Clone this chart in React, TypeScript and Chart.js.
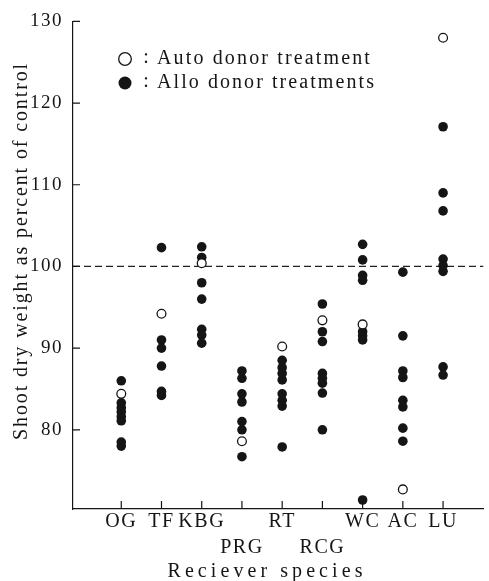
import { useEffect, useRef } from 'react';
import { Chart, registerables } from 'chart.js';

Chart.register(...registerables);

// ---- data ----
const categories = ['OG', 'TF', 'KBG', 'PRG', 'RT', 'RCG', 'WC', 'AC', 'LU'];
const tickLabels: (string | string[])[] = ['OG', 'TF', 'KBG', ['', 'PRG'], 'RT', ['', 'RCG'], 'WC', 'AC', 'LU'];
const yTickValues = [80, 90, 100, 110, 120, 130];
const controlLevel = 100;

const alloOG = [86.0, 83.3, 82.7, 82.2, 81.6, 81.1, 78.5, 78.0];
const alloTF = [102.3, 91.0, 90.0, 87.8, 84.7, 84.2];
const alloKBG = [102.4, 101.1, 98.0, 96.0, 92.3, 91.6, 90.6];
const alloPRG = [87.2, 86.3, 84.4, 83.4, 81.0, 80.0, 76.7];
const alloRT = [88.5, 87.6, 86.9, 86.1, 84.4, 83.6, 82.9, 77.9];
const alloRCG = [95.4, 92.0, 90.8, 86.9, 86.3, 85.7, 84.5, 80.0];
const alloWC = [102.7, 100.8, 98.9, 98.3, 92.0, 91.5, 91.0, 71.4];
const alloAC = [99.3, 91.5, 87.2, 86.4, 83.6, 82.8, 80.2, 78.6];
const alloLU = [117.1, 109.0, 106.8, 100.9, 100.1, 99.4, 87.7, 86.7];
const autoValues = [84.4, 94.2, 100.4, 78.6, 90.2, 93.4, 92.9, 72.7, 128.0];

const legendAuto = 'Auto donor treatment';
const legendAllo = 'Allo donor treatments';
const xTitle = 'Reciever species';
const yTitle = 'Shoot dry weight as percent of control';

const FONT = '"Liberation Serif", "Times New Roman", serif';
const INK = '#151515';

function spaced(ctx: CanvasRenderingContext2D, text: string, x: number, y: number, width: number, align: 'left' | 'center') {
  const c = ctx as any;
  c.letterSpacing = '0px';
  const natural = ctx.measureText(text).width;
  const ls = (width - natural) / text.length;
  c.letterSpacing = ls + 'px';
  ctx.textAlign = 'left';
  const startX = align === 'center' ? x - width / 2 : x;
  ctx.fillText(text, startX, y);
  c.letterSpacing = '0px';
}

export default function App() {
  const ref = useRef<HTMLCanvasElement>(null);

  useEffect(() => {
    const canvas = ref.current!;
    const allo = [alloOG, alloTF, alloKBG, alloPRG, alloRT, alloRCG, alloWC, alloAC, alloLU];
    const alloPoints = allo.flatMap((vals, i) => vals.map((v) => ({ x: i + 1, y: v })));
    const autoPoints = autoValues.map((v, i) => ({ x: i + 1, y: v }));

    const overlay = {
      id: 'overlay',
      beforeDraw(chart: any) {
        chart.ctx.letterSpacing = '1.5px';
      },
      beforeDatasetsDraw(chart: any) {
        const ctx = chart.ctx as CanvasRenderingContext2D;
        const { left, right } = chart.chartArea;
        const py = chart.scales.y.getPixelForValue(controlLevel);
        ctx.save();
        ctx.strokeStyle = '#222';
        ctx.lineWidth = 1.2;
        ctx.setLineDash([7, 4]);
        ctx.beginPath();
        ctx.moveTo(left, py);
        ctx.lineTo(right, py);
        ctx.stroke();
        ctx.restore();
      },
      afterDraw(chart: any) {
        const ctx = chart.ctx as CanvasRenderingContext2D;
        const { left, bottom } = chart.chartArea;
        const xs = chart.scales.x;
        const ys = chart.scales.y;
        ctx.save();
        (ctx as any).letterSpacing = '0px';
        ctx.strokeStyle = INK;
        ctx.lineWidth = 1.2;
        ctx.beginPath();
        yTickValues.forEach((v) => {
          const py = ys.getPixelForValue(v);
          ctx.moveTo(left, py);
          ctx.lineTo(left + 7, py);
        });
        categories.forEach((_, i) => {
          const px = xs.getPixelForValue(i + 1);
          ctx.moveTo(px, bottom);
          ctx.lineTo(px, bottom - 8);
        });
        ctx.stroke();

        ctx.fillStyle = INK;
        ctx.textBaseline = 'middle';
        ctx.font = `20px ${FONT}`;
        // x title
        spaced(ctx, xTitle, 267, 572, 199, 'center');
        // y title
        ctx.save();
        ctx.translate(22, 251);
        ctx.rotate(-Math.PI / 2);
        spaced(ctx, yTitle, 0, 0, 378, 'center');
        ctx.restore();

        // legend
        ctx.beginPath();
        ctx.arc(125, 59, 6.3, 0, Math.PI * 2);
        ctx.fillStyle = '#fff';
        ctx.fill();
        ctx.lineWidth = 1.3;
        ctx.strokeStyle = INK;
        ctx.stroke();
        ctx.beginPath();
        ctx.arc(125, 83, 6.5, 0, Math.PI * 2);
        ctx.fillStyle = INK;
        ctx.fill();
        ctx.font = `20px ${FONT}`;
        ctx.textAlign = 'center';
        ctx.fillText(':', 146, 58);
        ctx.fillText(':', 146, 82);
        spaced(ctx, legendAuto, 157, 59, 215, 'left');
        spaced(ctx, legendAllo, 157, 83, 219, 'left');
        ctx.restore();
      },
    };

    const chart = new Chart(canvas, {
      type: 'scatter',
      data: {
        datasets: [
          {
            label: legendAuto,
            data: autoPoints,
            order: 0,
            pointRadius: 4.4,
            pointBackgroundColor: '#fff',
            pointBorderColor: INK,
            pointBorderWidth: 1.3,
          },
          {
            label: legendAllo,
            data: alloPoints,
            order: 1,
            pointRadius: 4.8,
            pointBackgroundColor: INK,
            pointBorderColor: INK,
            pointBorderWidth: 0,
          },
        ],
      },
      options: {
        responsive: false,
        animation: false,
        layout: { padding: { top: 18, right: 0, left: 0, bottom: 0 } },
        plugins: { legend: { display: false }, tooltip: { enabled: false } },
        scales: {
          x: {
            type: 'linear',
            min: -0.2,
            max: 10,
            grid: { display: false, drawTicks: false },
            border: { display: true, color: INK, width: 1.2 },
            afterBuildTicks: (s: any) => {
              s.ticks = categories.map((_, i) => ({ value: i + 1 }));
            },
            afterFit: (s: any) => {
              s.height = 72;
            },
            ticks: {
              autoSkip: false,
              maxRotation: 0,
              minRotation: 0,
              padding: 0,
              color: INK,
              font: { family: FONT, size: 20, lineHeight: 1.3 },
              callback: (v: any) => tickLabels[Math.round(Number(v)) - 1] ?? '',
            },
          },
          y: {
            type: 'linear',
            min: 70.3,
            max: 130,
            grid: { display: false, drawTicks: false },
            border: { display: true, color: INK, width: 1.2 },
            afterBuildTicks: (s: any) => {
              s.ticks = yTickValues.map((v) => ({ value: v }));
            },
            afterFit: (s: any) => {
              s.width = 73;
            },
            ticks: {
              padding: 10,
              color: INK,
              font: { family: FONT, size: 19 },
            },
          },
        },
      } as any,
      plugins: [overlay],
    });
    return () => chart.destroy();
  }, []);

  return (
    <div style={{ position: 'absolute', left: 0, top: 0, width: 489, height: 581, background: '#fff' }}>
      <canvas ref={ref} width={489} height={581} style={{ display: 'block', width: 489, height: 581 }} />
    </div>
  );
}
